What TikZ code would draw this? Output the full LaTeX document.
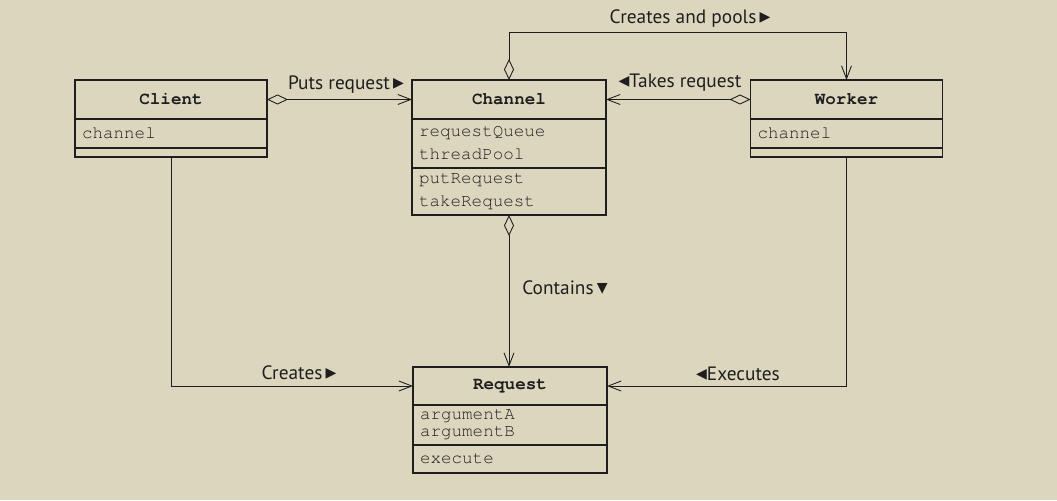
\documentclass[tikz,border=0pt]{standalone}
\usepackage{fontspec}
\setmainfont{PT Sans}
\setmonofont{TeX Gyre Cursor}
\newfontfamily\symfont{DejaVu Sans}
\usepackage{tikz}
\usetikzlibrary{positioning,arrows.meta}
\definecolor{paper}{RGB}{221,214,191}
\definecolor{ink}{RGB}{30,30,30}
\newcommand{\tri}[1]{\raisebox{0.12em}{\symfont\fontsize{8}{8}\selectfont #1}}
\tikzstyle{classname} = [rectangle, draw=ink, line width=0.6pt, minimum height=0.78cm, outer sep=0pt, font=\fontsize{10}{11}\selectfont\ttfamily\bfseries, text=ink]
\tikzstyle{classpart} = [rectangle, draw=ink, line width=0.6pt, outer sep=0pt, inner xsep=0.14cm, inner ysep=0pt, align=left, font=\fontsize{10}{13}\selectfont\ttfamily, text=ink]
\tikzstyle{assoclabel} = [font=\fontsize{11}{12}\selectfont, text=ink, inner sep=0pt]
\tikzstyle{aggr} = [line width=0.5pt, draw=ink, {Diamond[open,length=0.42cm,width=0.2cm]}-{Straight Barb[length=0.26cm,width=0.2cm]}]
\tikzstyle{assoc} = [line width=0.5pt, draw=ink, -{Straight Barb[length=0.26cm,width=0.2cm]}]

\begin{document}
\begin{tikzpicture}[x=0.02cm, y=-0.02cm]
        \fill[paper] (0,0) rectangle (1057,500);
        % classes
        \node[classname, minimum width=3.84cm] (client) at (171,99.5) {Client};
        \node[classpart, text width=3.56cm, minimum height=0.58cm, below=0pt of client] (clientattr) {channel};
        \node[classpart, text width=3.56cm, minimum height=0.18cm, below=0pt of clientattr] (clientops) {};
        \node[classname, minimum width=3.88cm] (channel) at (509,99.5) {Channel};
        \node[classpart, text width=3.60cm, minimum height=0.98cm, below=0pt of channel] (channelattr) {requestQueue\\threadPool};
        \node[classpart, text width=3.60cm, minimum height=0.94cm, below=0pt of channelattr] (channelops) {putRequest\\takeRequest};
        \node[classname, minimum width=3.84cm] (worker) at (846.5,99.5) {Worker};
        \node[classpart, text width=3.56cm, minimum height=0.58cm, below=0pt of worker] (workerattr) {channel};
        \node[classpart, text width=3.56cm, minimum height=0.18cm, below=0pt of workerattr] (workerops) {};
        \node[classname, minimum width=3.88cm, minimum height=0.76cm] (request) at (510,386) {Request};
        \node[classpart, text width=3.60cm, minimum height=0.8cm, font=\fontsize{10}{9.5}\selectfont\ttfamily, below=0pt of request] (requestattr) {argumentA\\argumentB};
        \node[classpart, text width=3.60cm, minimum height=0.56cm, below=0pt of requestattr] (requestops) {execute};
        % relations
        \draw[aggr] (client.east) -- (channel.west);
        \draw[aggr] (worker.west) -- (channel.east);
        \draw[aggr] (channel.north) -- ++(0,-48) -| (worker.north);
        \draw[aggr] (channelops.south) -- (channelops.south |- request.north);
        \draw[assoc] (clientops.south) |- (request.west);
        \draw[assoc] (workerops.south) |- (request.east);
        \node[assoclabel] (putslabel) at (346,85) {Puts request\,\tri{▶}};
        \node[assoclabel] (takeslabel) at (680,83) {\tri{◀}Takes request};
        \node[assoclabel] (poolslabel) at (690,19) {Creates and pools\,\tri{▶}};
        \node[assoclabel] (containslabel) at (565,288) {Contains\,\tri{▼}};
        \node[assoclabel] (createslabel) at (299,373) {Creates\,\tri{▶}};
        \node[assoclabel] (executeslabel) at (738,374) {\tri{◀}Executes};
        \end{tikzpicture}
\end{document}
